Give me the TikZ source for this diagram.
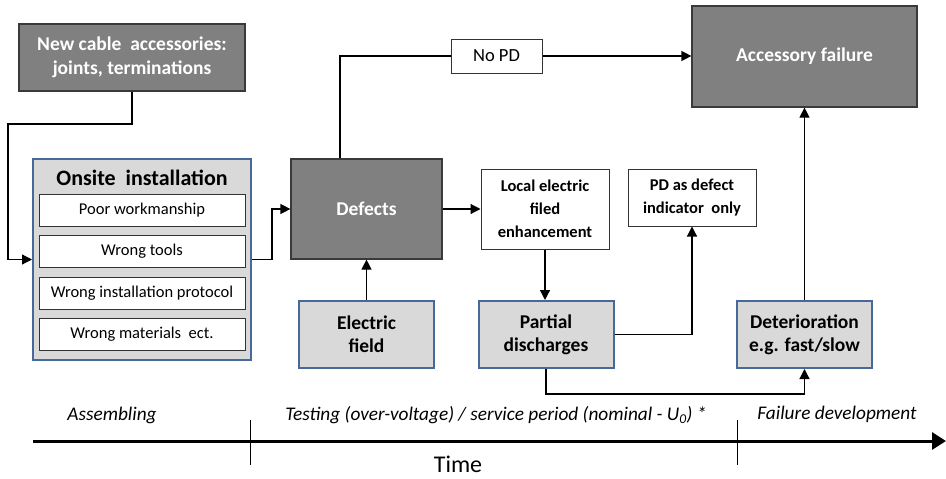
\documentclass[tikz,border=0pt]{standalone}
\usepackage{fontspec}
\setmainfont{Carlito}
\usetikzlibrary{arrows.meta,positioning,calc}
\definecolor{boxgray}{HTML}{808080}
\definecolor{boxedge}{HTML}{3A3A3A}
\definecolor{palegray}{HTML}{D9D9D9}
\definecolor{stageblue}{HTML}{46689A}
\tikzset{
  tl/dark/.style={draw=boxedge, fill=boxgray, line width=1.2pt, text=white, align=center, inner sep=0pt, font=\fontsize{19.5}{23.5}\selectfont\bfseries},
  tl/stage/.style={draw=stageblue, fill=palegray, line width=2pt, inner sep=0pt},
  tl/cause/.style={tl/stage, align=center, minimum width=135pt, minimum height=67pt, font=\fontsize{19.5}{23}\selectfont\bfseries},
  tl/item/.style={draw=black!80, fill=white, line width=1pt, minimum width=206pt, minimum height=32pt, inner sep=0pt, font=\fontsize{16.5}{20}\selectfont},
  tl/note/.style={draw=black!80, fill=white, line width=1pt, align=center, inner sep=0pt, font=\fontsize{16.5}{23}\selectfont\bfseries},
  tl/link/.style={line width=1.2pt},
  tl/flow/.style={tl/link, -{Triangle[length=10pt,width=10pt]}},
  tl/axis/.style={line width=3pt, -{Triangle[length=14pt,width=17pt]}},
  tl/tick/.style={line width=1.5pt},
  tl/period/.style={inner sep=0pt, font=\fontsize{19.3}{23}\selectfont\itshape}
}

\begin{document}
\begin{tikzpicture}[x=1pt, y=-1pt]
  \useasboundingbox (0,0) rectangle (946,479);

  % boxes
  \node[tl/dark, minimum width=226pt, minimum height=67pt] (newacc) at (132,57.5) {New cable\ \ accessories:\\joints, terminations};
  \node[tl/stage, minimum width=218pt, minimum height=201pt] (onsite) at (142,259.5) {};
  \node[inner sep=0pt, font=\fontsize{22}{26}\selectfont\bfseries] (onsitetitle) at (142,178) {Onsite\ \ installation};
  \node[tl/item] (poor) at (142,210) {Poor workmanship};
  \node[tl/item, below=8.5pt of poor] (tools) {Wrong tools};
  \node[tl/item, below=8.5pt of tools] (protocol) {Wrong installation protocol};
  \node[tl/item, below=8.5pt of protocol] (materials) {Wrong materials\ \ ect.};

  \node[tl/dark, minimum width=151pt, minimum height=100pt] (defects) at (366.5,209) {Defects};
  \node[draw=black!80, fill=white, line width=1pt, minimum width=91pt, minimum height=34pt, inner sep=0pt, font=\fontsize{18.5}{22}\selectfont] (nopd) at (496.5,56) {No PD};
  \node[tl/dark, minimum width=225pt, minimum height=101pt] (failure) at (804.5,56.5) {Accessory failure};
  \node[tl/note, minimum width=128pt, minimum height=80pt] (local) at (545,209) {Local electric\\filed\\enhancement};
  \node[tl/note, minimum width=128pt, minimum height=57pt] (indicator) at (692,197.5) {PD as defect\\indicator\ \ only};

  \node[tl/cause] (efield) at (366.5,334.5) {Electric\\field};
  \node[tl/cause] (pdis) at (546,334.5) {Partial\\discharges};
  \node[tl/cause] (deter) at (804.5,334.5) {Deterioration\\e.g. fast/slow};

  % connectors
  \coordinate (bendA) at (8,124);
  \draw[tl/flow] (newacc.south) |- (bendA) |- (onsite.west);
  \draw[tl/flow] (onsite.east) -- ++(20,0) |- (defects.west);
  \draw[tl/link] ([xshift=-26.5pt]defects.north) |- (nopd.west);
  \draw[tl/flow] (nopd.east) -- (failure.west |- nopd.east);
  \draw[tl/flow] (defects.east) -- (local.west);
  \draw[tl/flow] (efield.north) -- (defects.south);
  \draw[tl/flow] (local.south) -- (local.south |- pdis.north);
  \draw[tl/flow] (pdis.east) -| (indicator.south);
  \draw[tl/flow] (pdis.south) -- ++(0,25) -| (deter.south);
  \draw[tl/flow] (deter.north) -- (failure.south);

  % time axis
  \coordinate (tstart) at (33,441);
  \coordinate (tend) at (946,441);
  \draw[tl/axis] (tstart) -- (tend);
  \foreach \tx [count=\i] in {250.5,737.5}
    \draw[tl/tick] (\tx,420) coordinate (tick\i) -- (\tx,465);
  \node[tl/period] (assembling) at (112,415) {Assembling};
  \node[tl/period] (testing) at (496,415) {Testing (over-voltage) / service period (nominal - U\textsubscript{0}) *};
  \node[tl/period] (faildev) at (837,414) {Failure development};
  \node[inner sep=0pt, anchor=base, font=\fontsize{24}{28}\selectfont] (timelabel) at (458,472) {Time};
\end{tikzpicture}
\end{document}
